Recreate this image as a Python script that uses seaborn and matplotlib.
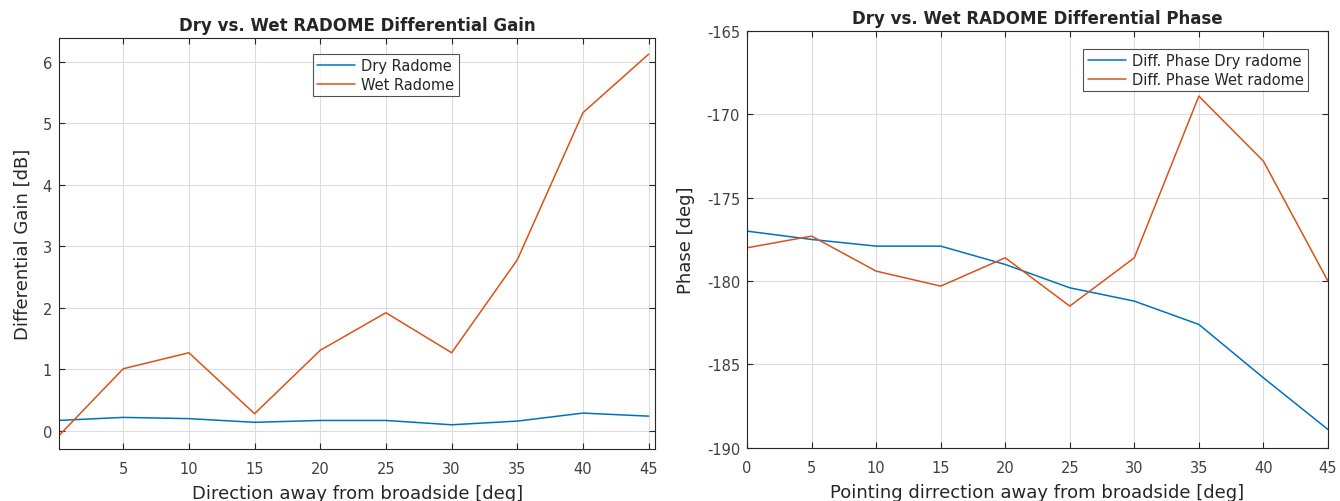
import numpy as np
import pandas as pd
import seaborn as sns
import matplotlib
matplotlib.use("Agg")
import matplotlib.pyplot as plt

# pointing angles [deg]
angle = [0, 5, 10, 15, 20, 25, 30, 35, 40, 45]

# differential gain [dB]
gain_dry = [0.17, 0.22, 0.20, 0.14, 0.17, 0.17, 0.10, 0.16, 0.29, 0.24]
gain_wet = [-0.10, 1.01, 1.27, 0.28, 1.31, 1.92, 1.27, 2.78, 5.17, 6.12]

# differential phase [deg]
phase_dry = [-177.0, -177.5, -177.9, -177.9, -179.0, -180.4, -181.2, -182.6, -185.8, -188.9]
phase_wet = [-178.0, -177.3, -179.4, -180.3, -178.6, -181.5, -178.6, -168.9, -172.8, -180.0]

sns.set_style("whitegrid")
plt.rcParams['font.family'] = ['DejaVu Sans']
plt.rcParams['axes.unicode_minus'] = False

blue = "#0072BD"
orange = "#D95319"
dark = "#262626"

fig = plt.figure(figsize=(13.4, 5.02), dpi=100)
ax1 = fig.add_axes([0.044, 0.104, 0.445, 0.818])
ax2 = fig.add_axes([0.5575, 0.106, 0.4335, 0.830])

gain = pd.DataFrame({"angle": angle * 2,
                     "value": gain_dry + gain_wet,
                     "series": ["Dry Radome"] * len(angle) + ["Wet Radome"] * len(angle)})
phase = pd.DataFrame({"angle": angle * 2,
                      "value": phase_dry + phase_wet,
                      "series": ["Diff. Phase Dry radome"] * len(angle) + ["Diff. Phase Wet radome"] * len(angle)})

sns.lineplot(data=gain, x="angle", y="value", hue="series", palette=[blue, orange],
             linewidth=1.1, ax=ax1)
sns.lineplot(data=phase, x="angle", y="value", hue="series", palette=[blue, orange],
             linewidth=1.1, ax=ax2)

ax1.set_xlim(0.11, 45.5)
ax1.set_ylim(-0.29, 6.38)
ax1.set_xticks([5, 10, 15, 20, 25, 30, 35, 40, 45])
ax1.set_yticks([0, 1, 2, 3, 4, 5, 6])
ax1.set_title("Dry vs. Wet RADOME Differential Gain", fontsize=12, fontweight="bold", pad=6)
ax1.set_xlabel("Direction away from broadside [deg]", fontsize=13, color=dark, labelpad=6)
ax1.set_ylabel("Differential Gain [dB]", fontsize=13, color=dark, labelpad=8)

ax2.set_xlim(0, 45)
ax2.set_ylim(-190, -165)
ax2.set_xticks(range(0, 50, 5))
ax2.set_yticks(range(-190, -164, 5))
ax2.set_title("Dry vs. Wet RADOME Differential Phase", fontsize=12, fontweight="bold", pad=6)
ax2.set_xlabel("Pointing dirrection away from broadside [deg]", fontsize=13, color=dark, labelpad=6)
ax2.set_ylabel("Phase [deg]", fontsize=13, color=dark, labelpad=8.5)

for ax in (ax1, ax2):
    ax.grid(True, color="#dcdcdc", linewidth=0.8)
    for s in ax.spines.values():
        s.set_color(dark)
        s.set_linewidth(0.8)
    ax.tick_params(axis="both", labelsize=10.5, colors=dark, direction="in",
                   length=4, width=0.8, top=True, right=True, bottom=True, left=True,
                   labelcolor="#404040", pad=5)
    ax.tick_params(axis="x", pad=8.5)

leg1 = ax1.legend(title=None, loc="upper left", bbox_to_anchor=(0.414, 0.98), fontsize=10.5,
                  frameon=True, fancybox=False, edgecolor=dark, borderpad=0.3,
                  handlelength=2.6, labelspacing=0.25, handletextpad=0.4)
leg1.get_frame().set_linewidth(0.8)
leg2 = ax2.legend(title=None, loc="upper right", bbox_to_anchor=(0.978, 0.975), fontsize=10.5,
                  frameon=True, fancybox=False, edgecolor=dark, borderpad=0.3,
                  handlelength=2.6, labelspacing=0.25, handletextpad=0.4)
leg2.get_frame().set_linewidth(0.8)

fig.savefig("out.png", dpi=100)
